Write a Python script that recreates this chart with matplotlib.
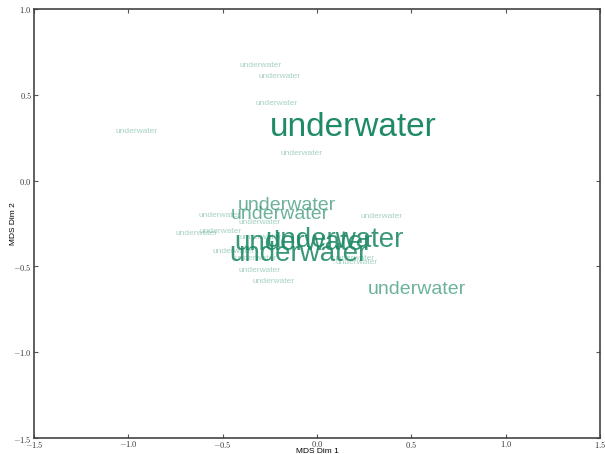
import matplotlib
matplotlib.use("Agg")
import matplotlib.pyplot as plt
from matplotlib.ticker import FuncFormatter
from matplotlib.transforms import offset_copy

plt.rcParams['mathtext.fontset'] = 'cm'
plt.rcParams['mathtext.default'] = 'rm'

# MDS coordinates of each word and its font size
words = ["underwater"] * 24
xs = [-0.297, -0.201, -0.212, 0.193, -0.954, -0.080, -0.162, -0.196,
      -0.517, -0.302, 0.342, -0.639, -0.512, -0.297, 0.090, -0.074,
      -0.101, -0.443, -0.323, 0.193, 0.212, -0.305, -0.228, 0.530]
ys = [0.674, 0.610, 0.452, 0.330, 0.289, 0.161, -0.131, -0.183,
      -0.200, -0.241, -0.206, -0.305, -0.294, -0.329, -0.329, -0.346,
      -0.410, -0.410, -0.451, -0.451, -0.469, -0.521, -0.585, -0.620]
sizes = [6, 6, 6, 24, 6, 6, 14, 14,
         6, 6, 6, 6, 6, 6, 20, 20,
         20, 6, 6, 6, 6, 6, 6, 14]

alpha_for = {6: 0.4, 14: 0.65, 20: 0.88, 24: 1.0}

fig = plt.figure(figsize=(6.05, 4.54), dpi=100)
ax = fig.add_axes([0.056, 0.035, 0.936, 0.945])

for w, x, y, s in zip(words, xs, ys, sizes):
    # nudge down a little so the glyphs sit where the reference has them
    tr = offset_copy(ax.transData, fig=fig, y=-0.1 * s, units='points')
    ax.text(x, y, w, fontsize=s, family='Liberation Sans', color='#1f8a66',
            alpha=alpha_for[s], ha='center', va='center', transform=tr)

ax.set_xlim(-1.5, 1.5)
ax.set_ylim(-1.5, 1.0)
ax.set_xticks([-1.5, -1.0, -0.5, 0.0, 0.5, 1.0, 1.5])
ax.set_yticks([-1.5, -1.0, -0.5, 0.0, 0.5, 1.0])
fmt = FuncFormatter(lambda v, p: r'$%.1f$' % v)
ax.xaxis.set_major_formatter(fmt)
ax.yaxis.set_major_formatter(fmt)
ax.tick_params(direction='in', length=3, width=0.8, labelsize=6, pad=1.5,
               top=True, right=True, colors='#555555', labelcolor='#333333')
ax.tick_params(axis='x', pad=0.5)
for sp in ax.spines.values():
    sp.set_linewidth(1.2)
    sp.set_color('#444444')

ax.set_xlabel('MDS Dim 1', fontsize=6, family='Liberation Sans', labelpad=-1)
ax.set_ylabel('MDS Dim 2', fontsize=6, family='Liberation Sans', labelpad=-3)

fig.savefig('out.png', dpi=100)
